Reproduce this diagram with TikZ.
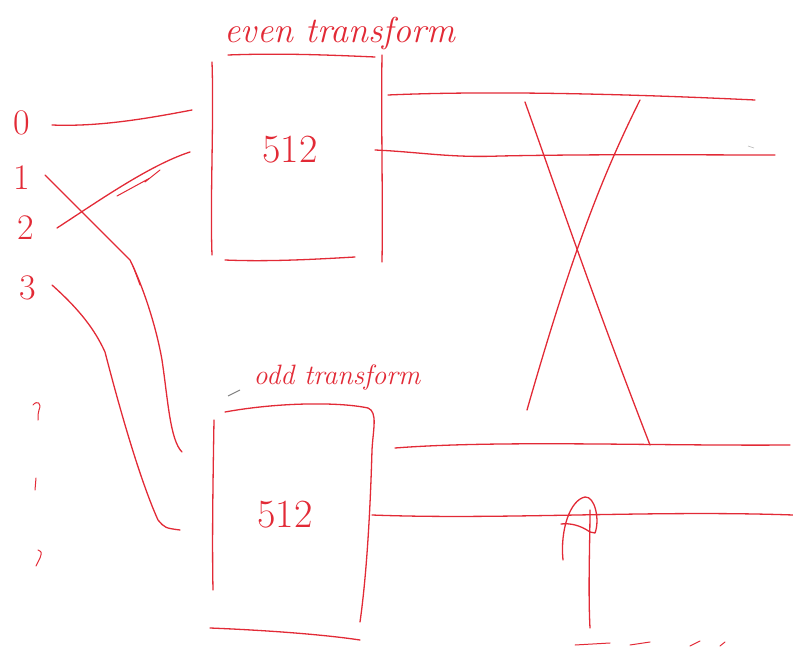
\documentclass[tikz,border=0pt]{standalone}
\usepackage{fontspec}
\begin{document}
\begin{tikzpicture}[x=1pt,y=-1pt,
  pen/.style={draw=inkred,line width=1.3pt,line cap=round,line join=round},
  hand/.style={text=inkred,font=\fontsize{36}{38}\selectfont\itshape,inner sep=0pt},
  num/.style={text=inkred,font=\fontsize{36}{38}\selectfont,inner sep=0pt},
  boxnum/.style={text=inkred,font=\fontsize{40}{42}\selectfont,inner sep=0pt}]
\definecolor{inkred}{RGB}{226,42,54}
\useasboundingbox (0,0) rectangle (793,647);
% labels
\node[hand] (evenlbl) at (340,34) {even transform};
\node[hand,font=\fontsize{28}{30}\selectfont\itshape] (oddlbl) at (337,377) {odd transform};
\draw[gray,line width=1pt] (228,396) -- (240,390);
% input numbers
\node[num] (n0) at (22,123) {0};
\node[num] (n1) at (22,178) {1};
\node[num] (n2) at (26,228) {2};
\node[num] (n3) at (28,288) {3};
% partial marks below
\draw[pen,line width=1pt] (33,405) .. controls (37,400) and (42,403) .. (39,410) .. controls (38,414) .. (38,420);
\draw[pen,line width=1pt] (36,478) -- (35,490);
\draw[pen,line width=1pt] (38,550) .. controls (42,552) .. (40,558) -- (36,566);
% top box
\draw[pen] (228,55) .. controls (280,53) and (330,55) .. (375,57);
\draw[pen] (212,62) .. controls (214,120) and (210,200) .. (212,255);
\draw[pen] (382,55) .. controls (381,120) and (383,200) .. (382,262);
\draw[pen] (225,260) .. controls (270,262) and (320,259) .. (355,257);
\node[boxnum] (top) at (290,150) {512};
% bottom box
\draw[pen] (225,412) .. controls (280,402) and (340,402) .. (368,408) .. controls (378,412) and (373,430) .. (372,450) .. controls (370,520) and (366,580) .. (360,622);
\draw[pen] (214,420) .. controls (213,480) and (212,540) .. (213,590);
\draw[pen] (210,628) .. controls (260,630) and (320,634) .. (360,640);
\node[boxnum] (bot) at (285,515) {512};
% inputs
\draw[pen] (52,125) .. controls (100,127) and (150,118) .. (192,110);
\draw[pen] (57,228) .. controls (100,200) and (150,165) .. (190,152);
\draw[pen,line width=1pt] (117,196) -- (150,178) (145,182) -- (160,170);
\draw[pen] (45,175) -- (130,260) .. controls (140,280) and (155,320) .. (162,360) .. controls (168,400) and (170,440) .. (182,452);
\draw[pen,line width=1pt] (133,266) -- (140,285);
\draw[pen] (52,285) .. controls (80,310) and (95,330) .. (105,352) .. controls (120,410) and (140,480) .. (158,520) .. controls (165,528) .. (180,530);
% top box outputs
\draw[pen] (388,95) .. controls (500,90) and (650,95) .. (755,100);
\draw[pen] (375,150) .. controls (420,152) and (450,158) .. (500,156) .. controls (600,154) and (700,155) .. (775,155);
\draw[gray!60,line width=0.6pt] (748,146) -- (754,148);
% bottom box outputs
\draw[pen] (395,448) .. controls (500,440) and (650,446) .. (790,445);
\draw[pen] (372,515) .. controls (500,520) and (650,510) .. (793,515);
% butterfly cross
\draw[pen] (525,102) .. controls (560,200) and (590,290) .. (650,445);
\draw[pen] (640,100) .. controls (600,180) and (570,260) .. (527,410);
% upward arrow
\coordinate (arrowfoot) at (590,628);
\coordinate (arrowtip) at (590,510);
\draw[pen] (arrowfoot) .. controls (588,590) and (590,540) .. (arrowtip);
\draw[pen] (563,560) .. controls (560,530) and (570,500) .. (585,497) .. controls (595,496) and (600,520) .. (595,533) -- (590,532) .. controls (580,525) and (570,523) .. (561,524);
% cut-off scribbles at bottom
\draw[pen,line width=1pt] (575,645) -- (610,643) (630,645) -- (650,642) (690,646) -- (700,641) (720,646) -- (725,642);
\end{tikzpicture}
\end{document}
